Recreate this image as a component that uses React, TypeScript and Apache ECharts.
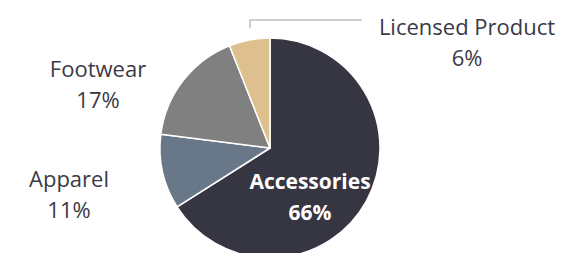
import React, { useEffect, useRef } from "react";
import * as echarts from "echarts";

const categories = ["Accessories", "Apparel", "Footwear", "Licensed Product"];
const values = [66, 11, 17, 6];
const colors = ["#363542", "#697889", "#808080", "#DEC08E"];
const labelPos: [number, number][] = [
  [310, 196],
  [69, 193],
  [98, 83],
  [467, 41],
];

export default function App() {
  const ref = useRef<HTMLDivElement>(null);
  useEffect(() => {
    if (!ref.current) return;
    const chart = echarts.init(ref.current, undefined, { renderer: "svg" });
    chart.setOption({
      animation: false,
      backgroundColor: "#ffffff",
      series: [
        {
          type: "pie",
          center: [270, 148],
          radius: 110,
          startAngle: 90,
          clockwise: true,
          avoidLabelOverlap: false,
          itemStyle: { borderColor: "#ffffff", borderWidth: 1.5 },
          label: {
            show: true,
            formatter: "{b}\n{d}%",
            fontFamily: "Open Sans",
            fontSize: 22,
            lineHeight: 31,
            color: "#3A3A47",
            align: "center",
          },
          labelLine: { show: false },
          labelLayout: (p: any) => ({
            x: labelPos[p.dataIndex][0],
            y: labelPos[p.dataIndex][1],
            align: "center",
            verticalAlign: "middle",
          }),
          data: categories.map((c, i) => ({
            name: c,
            value: values[i],
            itemStyle: { color: colors[i] },
            label:
              i === 0
                ? { color: "#ffffff", fontWeight: "bold", fontSize: 21 }
                : undefined,
          })),
        },
      ],
      graphic: [
        {
          type: "polyline",
          shape: { points: [[250, 28], [250, 20], [362, 20]] },
          style: { stroke: "#BFBFBF", lineWidth: 1.5, fill: "none" },
        },
      ],
    });
    return () => chart.dispose();
  }, []);
  return (
    <div
      ref={ref}
      style={{ position: "fixed", left: 0, top: 0, width: 565, height: 253 }}
    />
  );
}
